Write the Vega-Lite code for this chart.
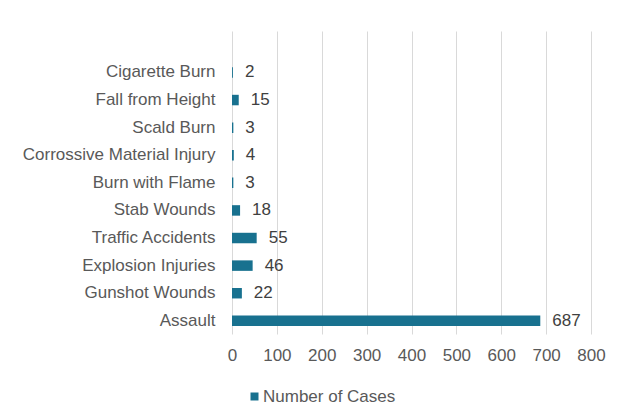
{
  "$schema": "https://vega.github.io/schema/vega-lite/v6.json",
  "autosize": {"type": "none"},
  "width": 359,
  "height": 303,
  "padding": {"left": 232, "top": 31, "right": 34, "bottom": 82},
  "background": "white",
  "data": {"values": [
    {"cause": "Cigarette Burn", "cases": 2, "series": "Number of Cases"},
    {"cause": "Fall from Height", "cases": 15, "series": "Number of Cases"},
    {"cause": "Scald Burn ", "cases": 3, "series": "Number of Cases"},
    {"cause": "Corrossive Material Injury", "cases": 4, "series": "Number of Cases"},
    {"cause": "Burn with Flame", "cases": 3, "series": "Number of Cases"},
    {"cause": "Stab Wounds", "cases": 18, "series": "Number of Cases"},
    {"cause": "Traffic Accidents", "cases": 55, "series": "Number of Cases"},
    {"cause": "Explosion Injuries", "cases": 46, "series": "Number of Cases"},
    {"cause": "Gunshot Wounds", "cases": 22, "series": "Number of Cases"},
    {"cause": "Assault", "cases": 687, "series": "Number of Cases"}
  ]},
  "encoding": {
    "y": {
      "field": "cause", "type": "nominal", "sort": null,
      "scale": {"paddingInner": 0.62, "paddingOuter": 0.8, "align": 0.82},
      "axis": {"title": null, "domain": false, "ticks": false, "grid": false,
               "labelFont": "Liberation Sans", "labelFontSize": 17, "labelColor": "#595959",
               "labelPadding": 17, "labelLimit": 300}
    },
    "x": {
      "field": "cases", "type": "quantitative",
      "scale": {"domain": [0, 800], "nice": false},
      "axis": {"title": null, "values": [0,100,200,300,400,500,600,700,800], "domain": false, "ticks": false,
               "grid": true, "gridColor": "#d9d9d9", "gridWidth": 1, "labelFlush": false,
               "labelFont": "Liberation Sans", "labelFontSize": 17, "labelColor": "#595959",
               "labelPadding": 13}
    }
  },
  "layer": [
    {
      "mark": {"type": "bar", "color": "#18718f"},
      "encoding": {
        "color": {"field": "series", "type": "nominal",
          "scale": {"range": ["#18718f"]},
          "legend": {"title": null, "orient": "none", "legendX": 14, "legendY": 357,
                     "symbolType": "square", "symbolSize": 64, "symbolStrokeWidth": 0,
                     "labelFont": "Liberation Sans", "labelFontSize": 17, "labelColor": "#595959",
                     "labelOffset": 0}
        }
      }
    },
    {
      "mark": {"type": "text", "align": "left", "baseline": "middle", "dx": 12,
               "font": "Liberation Sans", "fontSize": 17, "color": "#404040"},
      "encoding": {"text": {"field": "cases", "type": "quantitative"}}
    }
  ],
  "config": {"view": {"stroke": null}}
}
